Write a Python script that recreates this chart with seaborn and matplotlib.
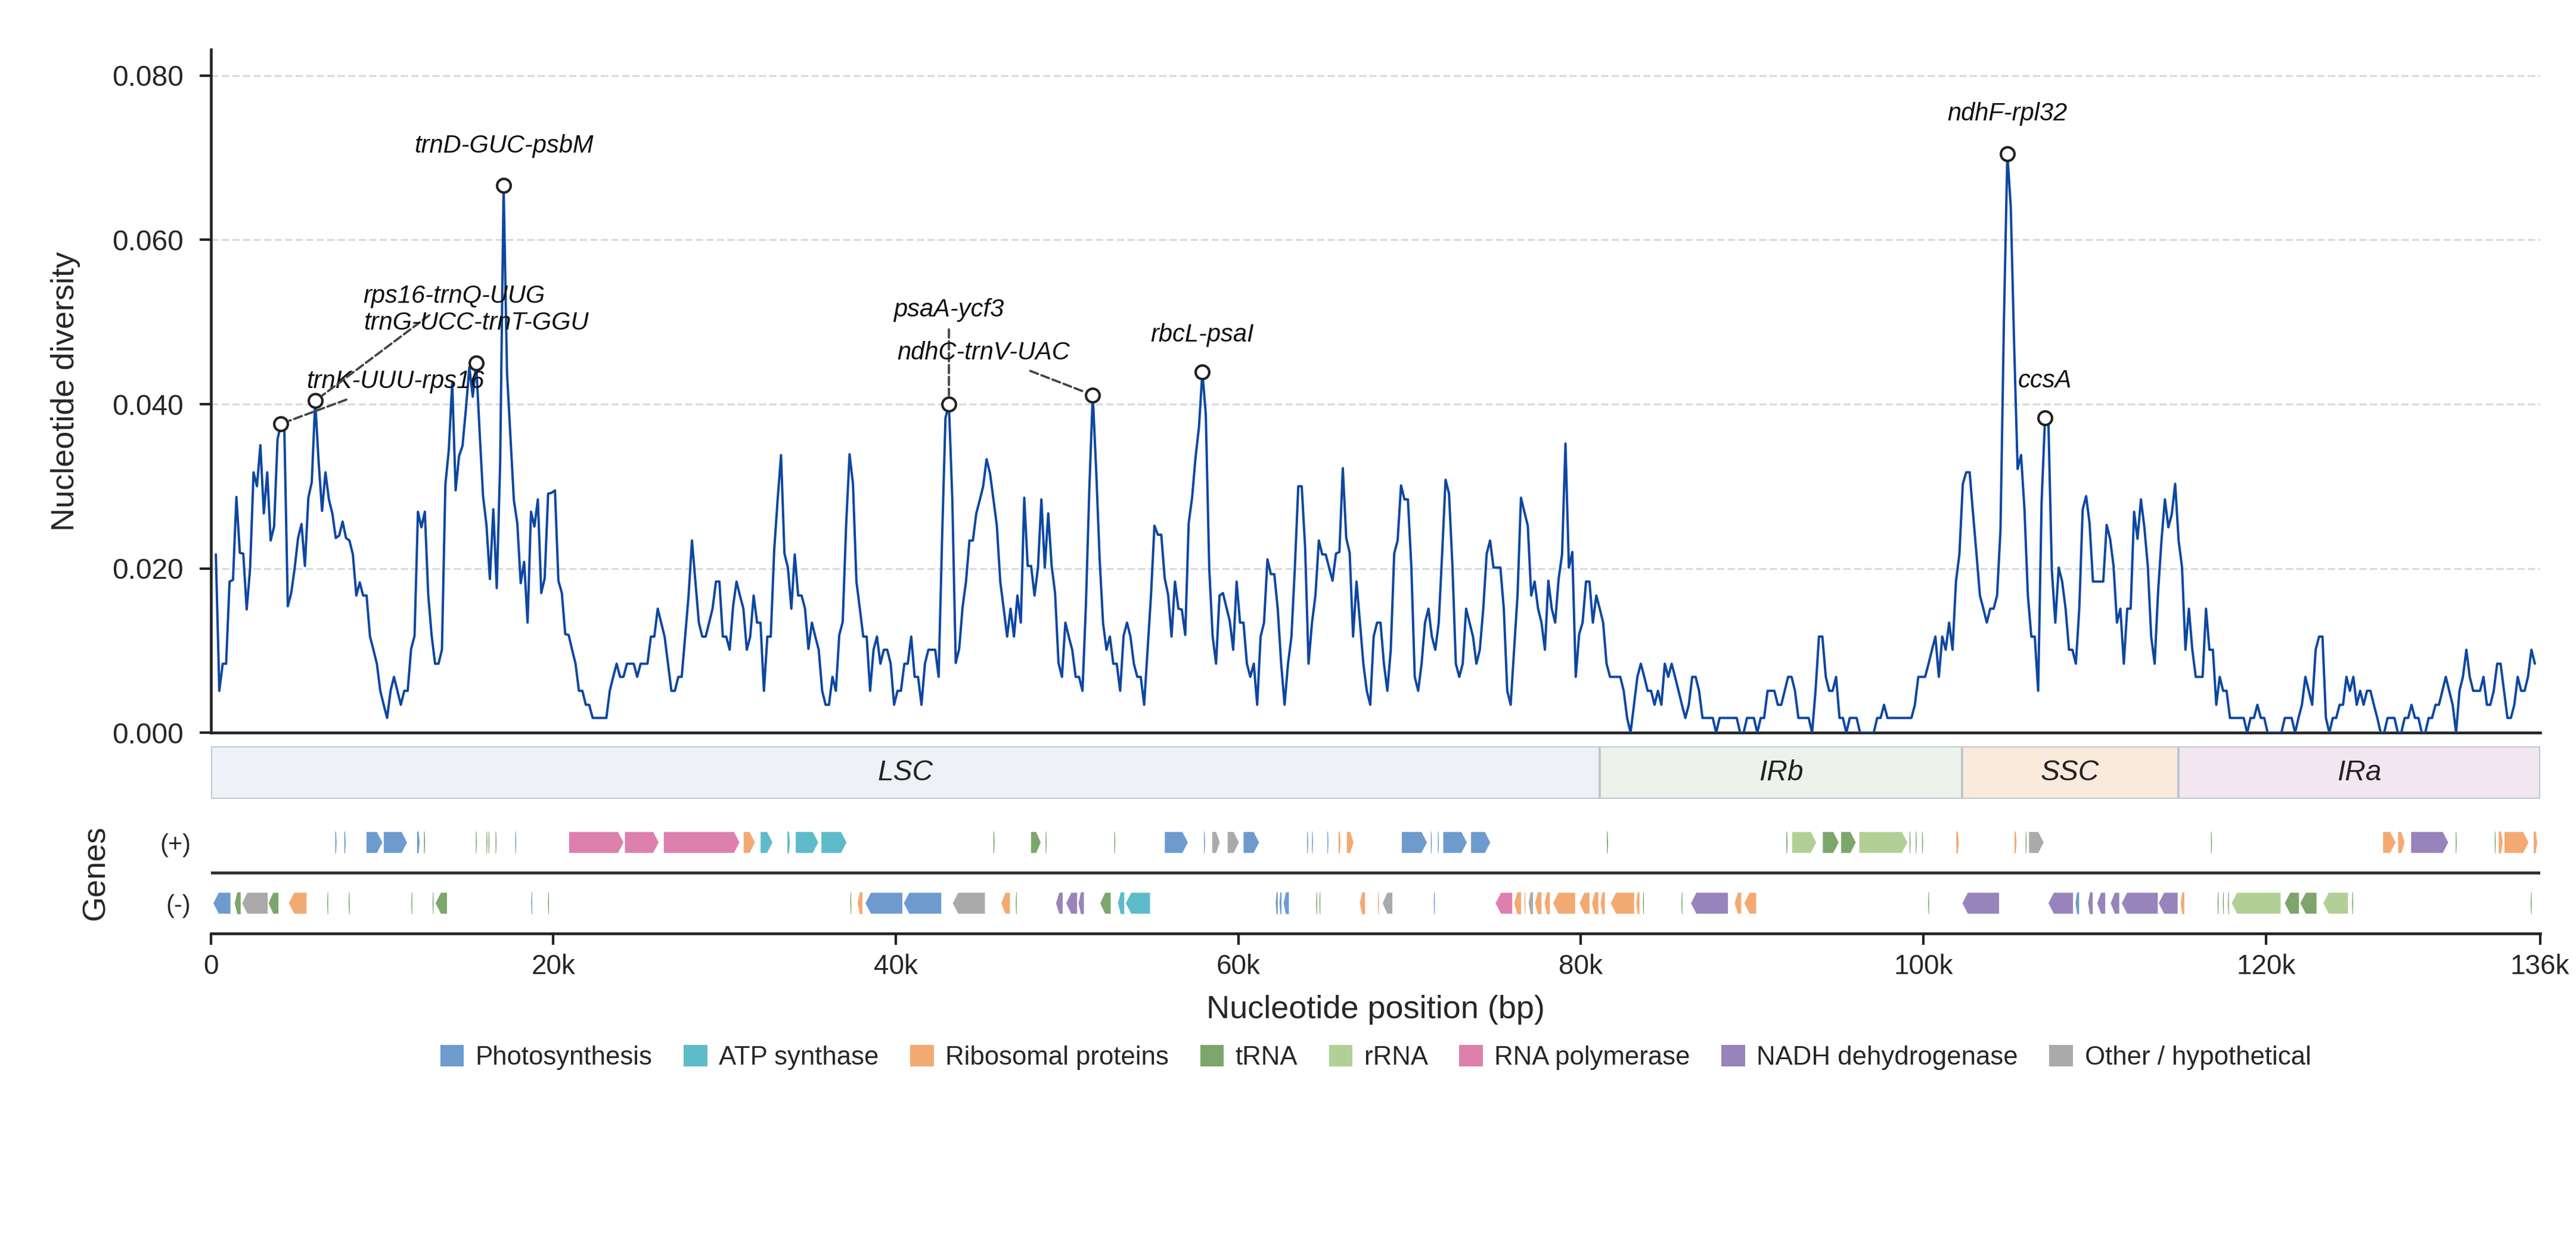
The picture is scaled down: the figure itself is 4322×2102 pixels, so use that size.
import numpy as np
import matplotlib
matplotlib.use("Agg")
import matplotlib.pyplot as plt
from matplotlib.patches import Polygon, Rectangle, Patch
from matplotlib.ticker import FuncFormatter
import seaborn as sns

# sliding window midpoints (600 bp window, 200 bp step)
window_mid = np.arange(300, 135701, 200)

pi = np.array([
    0.0217, 0.0051, 0.0084, 0.0084, 0.0184, 0.0186, 0.0287, 0.0219, 0.0218, 0.0150,
    0.0200, 0.0317, 0.0300, 0.0350, 0.0267, 0.0317, 0.0234, 0.0251, 0.0357, 0.0376,
    0.0368, 0.0154, 0.0170, 0.0200, 0.0237, 0.0254, 0.0203, 0.0286, 0.0305, 0.0404,
    0.0330, 0.0270, 0.0317, 0.0284, 0.0267, 0.0237, 0.0240, 0.0257, 0.0237, 0.0234,
    0.0217, 0.0167, 0.0183, 0.0167, 0.0167, 0.0117, 0.0101, 0.0084, 0.0051, 0.0034,
    0.0018, 0.0051, 0.0068, 0.0051, 0.0034, 0.0051, 0.0051, 0.0102, 0.0118, 0.0269,
    0.0250, 0.0269, 0.0168, 0.0118, 0.0084, 0.0084, 0.0101, 0.0302, 0.0344, 0.0426,
    0.0295, 0.0337, 0.0349, 0.0394, 0.0445, 0.0409, 0.0450, 0.0366, 0.0288, 0.0253,
    0.0187, 0.0272, 0.0176, 0.0328, 0.0666, 0.0438, 0.0360, 0.0283, 0.0255, 0.0182,
    0.0208, 0.0134, 0.0269, 0.0251, 0.0284, 0.0170, 0.0188, 0.0291, 0.0292, 0.0295,
    0.0185, 0.0170, 0.0120, 0.0119, 0.0101, 0.0084, 0.0051, 0.0051, 0.0034, 0.0034,
    0.0018, 0.0018, 0.0018, 0.0018, 0.0018, 0.0051, 0.0068, 0.0084, 0.0068, 0.0068,
    0.0084, 0.0084, 0.0084, 0.0068, 0.0084, 0.0084, 0.0084, 0.0117, 0.0117, 0.0151,
    0.0134, 0.0117, 0.0084, 0.0051, 0.0051, 0.0068, 0.0068, 0.0117, 0.0167, 0.0234,
    0.0184, 0.0134, 0.0117, 0.0117, 0.0134, 0.0151, 0.0184, 0.0184, 0.0117, 0.0117,
    0.0101, 0.0154, 0.0184, 0.0167, 0.0151, 0.0101, 0.0117, 0.0167, 0.0134, 0.0134,
    0.0051, 0.0117, 0.0117, 0.0222, 0.0284, 0.0338, 0.0218, 0.0201, 0.0151, 0.0217,
    0.0167, 0.0167, 0.0151, 0.0102, 0.0134, 0.0117, 0.0101, 0.0051, 0.0034, 0.0034,
    0.0068, 0.0051, 0.0119, 0.0135, 0.0253, 0.0339, 0.0303, 0.0184, 0.0151, 0.0117,
    0.0117, 0.0051, 0.0101, 0.0117, 0.0084, 0.0101, 0.0101, 0.0084, 0.0034, 0.0051,
    0.0051, 0.0084, 0.0084, 0.0117, 0.0068, 0.0068, 0.0034, 0.0084, 0.0101, 0.0101,
    0.0101, 0.0068, 0.0234, 0.0383, 0.0400, 0.0284, 0.0085, 0.0102, 0.0153, 0.0184,
    0.0234, 0.0234, 0.0267, 0.0283, 0.0300, 0.0333, 0.0316, 0.0284, 0.0252, 0.0184,
    0.0151, 0.0117, 0.0151, 0.0117, 0.0167, 0.0134, 0.0286, 0.0203, 0.0203, 0.0167,
    0.0201, 0.0284, 0.0201, 0.0267, 0.0203, 0.0170, 0.0085, 0.0068, 0.0134, 0.0117,
    0.0101, 0.0068, 0.0068, 0.0051, 0.0156, 0.0297, 0.0411, 0.0319, 0.0212, 0.0134,
    0.0101, 0.0117, 0.0084, 0.0084, 0.0051, 0.0118, 0.0134, 0.0117, 0.0084, 0.0068,
    0.0068, 0.0034, 0.0101, 0.0167, 0.0252, 0.0241, 0.0241, 0.0188, 0.0168, 0.0117,
    0.0184, 0.0151, 0.0150, 0.0119, 0.0255, 0.0286, 0.0335, 0.0372, 0.0439, 0.0388,
    0.0200, 0.0117, 0.0084, 0.0167, 0.0170, 0.0153, 0.0136, 0.0101, 0.0184, 0.0134,
    0.0134, 0.0084, 0.0068, 0.0084, 0.0034, 0.0117, 0.0134, 0.0211, 0.0193, 0.0193,
    0.0151, 0.0084, 0.0034, 0.0084, 0.0117, 0.0201, 0.0300, 0.0300, 0.0225, 0.0084,
    0.0134, 0.0167, 0.0234, 0.0217, 0.0217, 0.0201, 0.0185, 0.0218, 0.0220, 0.0322,
    0.0237, 0.0219, 0.0117, 0.0184, 0.0134, 0.0084, 0.0051, 0.0034, 0.0117, 0.0134,
    0.0134, 0.0084, 0.0051, 0.0101, 0.0218, 0.0234, 0.0301, 0.0284, 0.0284, 0.0203,
    0.0068, 0.0051, 0.0084, 0.0134, 0.0151, 0.0117, 0.0101, 0.0134, 0.0218, 0.0308,
    0.0291, 0.0203, 0.0084, 0.0068, 0.0084, 0.0151, 0.0134, 0.0117, 0.0084, 0.0101,
    0.0151, 0.0218, 0.0234, 0.0201, 0.0201, 0.0201, 0.0151, 0.0051, 0.0034, 0.0101,
    0.0167, 0.0286, 0.0269, 0.0252, 0.0167, 0.0184, 0.0151, 0.0134, 0.0101, 0.0185,
    0.0151, 0.0134, 0.0187, 0.0217, 0.0352, 0.0201, 0.0220, 0.0068, 0.0120, 0.0134,
    0.0184, 0.0184, 0.0134, 0.0167, 0.0151, 0.0134, 0.0084, 0.0068, 0.0068, 0.0068,
    0.0068, 0.0051, 0.0018, 0.0000, 0.0034, 0.0068, 0.0084, 0.0068, 0.0051, 0.0051,
    0.0034, 0.0051, 0.0034, 0.0084, 0.0068, 0.0084, 0.0068, 0.0051, 0.0034, 0.0018,
    0.0034, 0.0068, 0.0068, 0.0051, 0.0018, 0.0018, 0.0018, 0.0018, 0.0000, 0.0018,
    0.0018, 0.0018, 0.0018, 0.0018, 0.0018, 0.0000, 0.0000, 0.0018, 0.0018, 0.0018,
    0.0000, 0.0018, 0.0018, 0.0051, 0.0051, 0.0051, 0.0034, 0.0034, 0.0051, 0.0068,
    0.0068, 0.0051, 0.0018, 0.0018, 0.0018, 0.0018, 0.0000, 0.0051, 0.0117, 0.0117,
    0.0068, 0.0051, 0.0051, 0.0068, 0.0018, 0.0018, 0.0000, 0.0018, 0.0018, 0.0018,
    0.0000, 0.0000, 0.0000, 0.0000, 0.0000, 0.0018, 0.0018, 0.0034, 0.0018, 0.0018,
    0.0018, 0.0018, 0.0018, 0.0018, 0.0018, 0.0018, 0.0034, 0.0068, 0.0068, 0.0068,
    0.0084, 0.0101, 0.0117, 0.0068, 0.0117, 0.0101, 0.0134, 0.0101, 0.0184, 0.0217,
    0.0303, 0.0317, 0.0317, 0.0266, 0.0217, 0.0167, 0.0151, 0.0134, 0.0151, 0.0151,
    0.0167, 0.0247, 0.0500, 0.0705, 0.0640, 0.0470, 0.0321, 0.0338, 0.0272, 0.0167,
    0.0117, 0.0117, 0.0051, 0.0281, 0.0383, 0.0376, 0.0197, 0.0134, 0.0201, 0.0184,
    0.0151, 0.0101, 0.0101, 0.0084, 0.0151, 0.0272, 0.0288, 0.0255, 0.0184, 0.0184,
    0.0184, 0.0184, 0.0253, 0.0236, 0.0203, 0.0134, 0.0151, 0.0084, 0.0151, 0.0151,
    0.0269, 0.0236, 0.0284, 0.0250, 0.0203, 0.0117, 0.0084, 0.0171, 0.0234, 0.0284,
    0.0250, 0.0266, 0.0303, 0.0234, 0.0201, 0.0101, 0.0151, 0.0101, 0.0068, 0.0068,
    0.0068, 0.0151, 0.0101, 0.0101, 0.0034, 0.0068, 0.0051, 0.0051, 0.0018, 0.0018,
    0.0018, 0.0018, 0.0018, 0.0000, 0.0018, 0.0018, 0.0034, 0.0018, 0.0018, 0.0000,
    0.0000, 0.0000, 0.0000, 0.0000, 0.0018, 0.0018, 0.0018, 0.0000, 0.0018, 0.0034,
    0.0068, 0.0051, 0.0034, 0.0101, 0.0117, 0.0117, 0.0018, 0.0000, 0.0018, 0.0018,
    0.0034, 0.0034, 0.0068, 0.0051, 0.0068, 0.0034, 0.0051, 0.0034, 0.0051, 0.0051,
    0.0034, 0.0018, 0.0000, 0.0000, 0.0018, 0.0018, 0.0018, 0.0000, 0.0000, 0.0018,
    0.0018, 0.0034, 0.0018, 0.0018, 0.0000, 0.0000, 0.0018, 0.0018, 0.0034, 0.0034,
    0.0051, 0.0068, 0.0051, 0.0034, 0.0000, 0.0051, 0.0068, 0.0101, 0.0068, 0.0051,
    0.0051, 0.0051, 0.0068, 0.0034, 0.0034, 0.0051, 0.0084, 0.0084, 0.0051, 0.0018,
    0.0018, 0.0034, 0.0068, 0.0051, 0.0051, 0.0068, 0.0101, 0.0084,
])

# highlighted hotspots (index into the window series)
peak_idx = [19, 29, 76, 84, 214, 256, 288, 523, 534]
peak_names = ["trnK-UUU-rps16", "rps16-trnQ-UUG", "trnG-UCC-trnT-GGU", "trnD-GUC-psbM",
              "psaA-ycf3", "ndhC-trnV-UAC", "rbcL-psaI", "ndhF-rpl32", "ccsA"]

region_names = ["LSC", "IRb", "SSC", "IRa"]
region_bounds = [0, 81100, 102250, 114880, 136000]

# genes: (start, end, strand)
photosynthesis = [(7270, 7350, 1), (7800, 7880, 1), (9070, 10050, 1), (10080, 11490, 1),
                  (12050, 12200, 1), (17780, 17840, 1), (55680, 57080, 1), (58000, 58060, 1),
                  (60280, 61240, 1), (64020, 64080, 1), (64300, 64360, 1), (65200, 65260, 1),
                  (69520, 71040, 1), (71240, 71300, 1), (71650, 71710, 1), (71940, 73370, 1),
                  (73560, 74740, 1),
                  (124, 1180, -1), (18710, 18770, -1), (38200, 40410, -1), (40440, 42680, -1),
                  (62180, 62300, -1), (62400, 62520, -1), (62640, 62950, -1), (71410, 71470, -1),
                  (108880, 109090, -1)]
atp_synthase = [(32080, 32830, 1), (33670, 33820, 1), (34130, 35500, 1), (35630, 37150, 1),
                (52970, 53340, -1), (53400, 54870, -1)]
ribosomal = [(31090, 31800, 1), (65850, 65970, 1), (66310, 66750, 1), (101920, 102070, 1),
             (105320, 105440, 1), (126810, 127600, 1), (127690, 128120, 1), (133590, 133830, 1),
             (133900, 135360, 1), (135630, 135840, 1),
             (4530, 5620, -1), (37770, 38050, -1), (46130, 46690, -1), (67090, 67400, -1),
             (68150, 68210, -1), (76110, 76510, -1), (76700, 76760, -1), (77320, 77700, -1),
             (77880, 78190, -1), (78350, 79690, -1), (79900, 80530, -1), (80650, 81020, -1),
             (81150, 81400, -1), (81710, 83140, -1), (83230, 83420, -1), (88950, 89390, -1),
             (89510, 90260, -1), (115020, 115230, -1)]
trna = [(12450, 12520, 1), (15480, 15540, 1), (16100, 16160, 1), (16220, 16280, 1),
        (16630, 16690, 1), (45700, 45770, 1), (47870, 48490, 1), (48750, 48810, 1),
        (52760, 52820, 1), (81520, 81590, 1), (92000, 92070, 1), (94100, 95080, 1),
        (95170, 96080, 1), (99190, 99250, 1), (99550, 99610, 1), (99920, 99980, 1),
        (105970, 106030, 1), (116790, 116850, 1), (131080, 131140, 1), (133360, 133420, 1),
        (1400, 1750, -1), (3350, 3980, -1), (6800, 6860, -1), (8050, 8110, -1),
        (11710, 11770, -1), (12950, 13010, -1), (13100, 13820, -1), (19690, 19750, -1),
        (37340, 37400, -1), (47000, 47060, -1), (51910, 52570, -1), (64540, 64600, -1),
        (64730, 64790, -1), (83620, 83680, -1), (85870, 85930, -1), (100270, 100330, -1),
        (117170, 117230, -1), (117480, 117540, -1), (117780, 117840, -1), (121070, 121950, -1),
        (121980, 122980, -1), (125020, 125080, -1), (135450, 135510, -1)]
rrna = [(92310, 93770, 1), (96230, 99090, 1), (117970, 120880, -1), (123320, 124810, -1)]
rna_pol = [(20900, 24130, 1), (24160, 26180, 1), (26430, 30900, 1), (74990, 76020, -1)]
ndh = [(128450, 130670, 1), (49330, 49770, -1), (49920, 50610, -1), (50670, 50980, -1),
       (86400, 88610, -1), (102250, 104440, -1), (107270, 108760, -1), (109610, 109880, -1),
       (110120, 110640, -1), (110910, 111460, -1), (111550, 113710, -1), (113710, 114870, -1)]
other = [(58450, 58940, 1), (59350, 60060, 1), (106140, 107050, 1), (1800, 3350, -1),
         (43300, 45230, -1), (68400, 69020, -1), (76950, 77200, -1)]

categories = ["Photosynthesis", "ATP synthase", "Ribosomal proteins", "tRNA", "rRNA",
              "RNA polymerase", "NADH dehydrogenase", "Other / hypothetical"]
cat_genes = [photosynthesis, atp_synthase, ribosomal, trna, rrna, rna_pol, ndh, other]
cat_colors = ["#5a8dc8", "#48b2c2", "#f29e5f", "#6a9a58", "#a8ca88",
              "#d96fa2", "#8a72b2", "#9e9e9e"]
region_colors = ["#eef2f6", "#edf3eb", "#f9eadc", "#f2e7f1"]

sns.set_theme(style="ticks")
plt.rcParams["font.family"] = ["Liberation Sans", "DejaVu Sans"]

fig = plt.figure(figsize=(14.407, 7.007), dpi=300)
ax = fig.add_axes([0.0818, 0.4152, 0.9042, 0.5455])
ax_reg = fig.add_axes([0.0818, 0.3625, 0.9042, 0.0419], sharex=ax)
ax_gene = fig.add_axes([0.0818, 0.2549, 0.9042, 0.0970], sharex=ax)

# diversity line
sns.lineplot(x=window_mid, y=pi, ax=ax, color="#0d47a1", linewidth=0.95, zorder=3)
ax.scatter(window_mid[peak_idx], pi[peak_idx], s=30, facecolor="white",
           edgecolor="#222222", linewidth=1.0, zorder=5)

# label offsets in points (dx, dy) and whether a leader line is drawn
label_off = [(46, 17), (56, 42), (0, 16), (0, 16), (0, 38), (-44, 17), (0, 15), (0, 16), (0, 15)]
leader = [True, True, False, False, True, True, False, False, False]
for k, name in enumerate(peak_names):
    xi, yi = window_mid[peak_idx[k]], pi[peak_idx[k]]
    props = None
    if leader[k]:
        props = dict(arrowstyle="-", linestyle="--", color="#444444", lw=0.9,
                     shrinkA=1, shrinkB=3.5)
    ax.annotate(name, xy=(xi, yi), xytext=label_off[k], textcoords="offset points",
                ha="center", va="center", fontsize=10, style="italic", color="#111111",
                arrowprops=props, zorder=6)

ax.set_xlim(0, 136000)
ax.set_ylim(0, 0.0832)
ax.set_yticks([0, 0.02, 0.04, 0.06, 0.08])
ax.yaxis.set_major_formatter(FuncFormatter(lambda v, p: f"{v:.3f}"))
ax.grid(axis="y", linestyle="--", color="#d5dce3", linewidth=0.8)
ax.set_axisbelow(True)
ax.tick_params(axis="y", labelsize=11.5, length=4.5, width=1.0, pad=6.5, color="#222222")
ax.tick_params(axis="x", bottom=False, labelbottom=False)
for s in ["top", "right"]:
    ax.spines[s].set_visible(False)
for s in ["left", "bottom"]:
    ax.spines[s].set_color("#222222")
    ax.spines[s].set_linewidth(1.1)
ax.set_xlabel("")
ax.set_ylabel("Nucleotide diversity", fontsize=13)
ax.yaxis.set_label_coords(-0.056, 0.5)

# genome regions
for k, name in enumerate(region_names):
    x0, x1 = region_bounds[k], region_bounds[k + 1]
    ax_reg.add_patch(Rectangle((x0, 0), x1 - x0, 1, facecolor=region_colors[k],
                               edgecolor="#bcc6ce", linewidth=0.9))
    ax_reg.text((x0 + x1) / 2, 0.5, name, ha="center", va="center", fontsize=11.5,
                style="italic", color="#222222")
ax_reg.set_ylim(0, 1)
ax_reg.axis("off")

# gene track
def draw_gene(a, s, e, strand, color):
    y0 = 1.0 if strand > 0 else -1.0
    h = 0.36
    length = e - s
    head = min(330, 0.45 * length)
    if strand > 0:
        pts = [(s, y0 - h), (e - head, y0 - h), (e, y0), (e - head, y0 + h), (s, y0 + h)]
    else:
        pts = [(e, y0 - h), (s + head, y0 - h), (s, y0), (s + head, y0 + h), (e, y0 + h)]
    ec = "white" if length > 400 else "none"
    a.add_patch(Polygon(pts, closed=True, facecolor=color, edgecolor=ec,
                        linewidth=0.4, alpha=0.88))

for genes, col in zip(cat_genes, cat_colors):
    for s, e, strand in genes:
        draw_gene(ax_gene, s, e, strand, col)

ax_gene.axhline(0, color="#333333", linewidth=1.2)
ax_gene.set_ylim(-2, 2)
ax_gene.set_yticks([1, -1])
ax_gene.set_yticklabels(["(+)", "(-)"])
ax_gene.tick_params(axis="y", length=0, pad=8, labelsize=10)
ax_gene.set_xticks([0, 20000, 40000, 60000, 80000, 100000, 120000, 136000])
ax_gene.xaxis.set_major_formatter(FuncFormatter(lambda v, p: "0" if v == 0 else f"{v / 1000:.0f}k"))
ax_gene.tick_params(axis="x", labelsize=11, length=4.5, width=1.0, color="#222222")
for s in ["top", "right", "left"]:
    ax_gene.spines[s].set_visible(False)
ax_gene.spines["bottom"].set_color("#222222")
ax_gene.spines["bottom"].set_linewidth(1.1)
ax_gene.set_xlabel("Nucleotide position (bp)", fontsize=13, labelpad=6)
ax_gene.set_ylabel("Genes", fontsize=13)
ax_gene.yaxis.set_label_coords(-0.043, 0.5)
ax_gene.set_xlim(0, 136000)

handles = [Patch(facecolor=c, edgecolor="none", alpha=0.88) for c in cat_colors]
fig.legend(handles, categories, loc="center", bbox_to_anchor=(0.534, 0.156), ncol=8,
           frameon=False, fontsize=10.5, handlelength=0.9, handleheight=0.9,
           handletextpad=0.45, columnspacing=1.2)

fig.savefig("out.png", dpi=300)
